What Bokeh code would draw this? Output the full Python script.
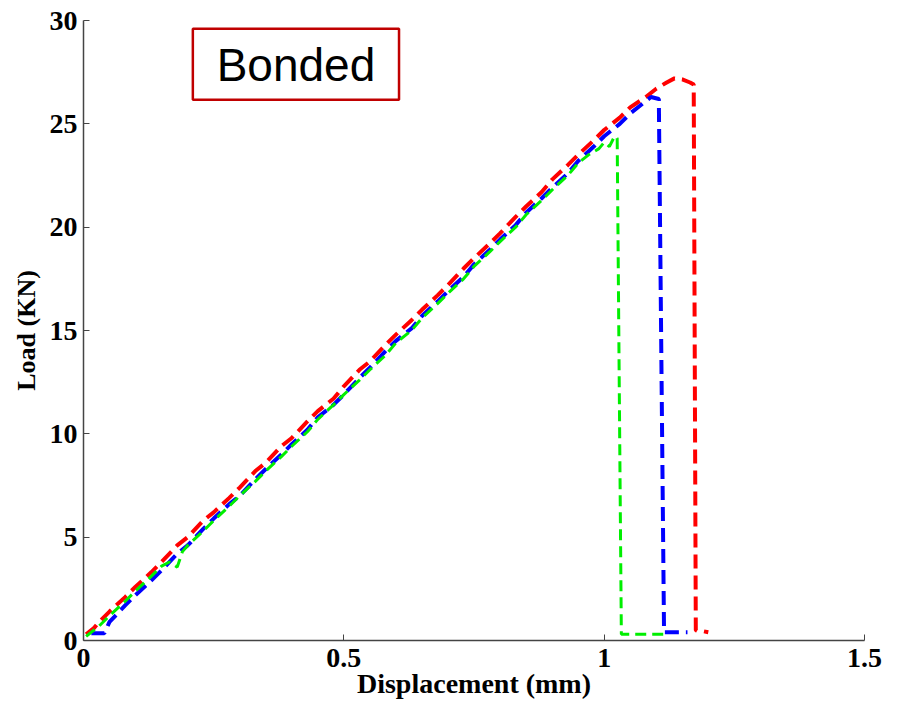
from bokeh.plotting import figure
from bokeh.models import Range1d, FixedTicker, BoxAnnotation, Label
from bokeh.embed import file_html
from bokeh.resources import INLINE

# Specimen 1 (red)
red_x = [0.005, 0.02, 0.03, 0.05, 0.08, 0.1, 0.13, 0.15, 0.18, 0.2, 0.23, 0.25, 0.28, 0.3, 0.33,
         0.35, 0.38, 0.4, 0.43, 0.45, 0.48, 0.5, 0.53, 0.55, 0.58, 0.6, 0.63, 0.65, 0.68, 0.7,
         0.73, 0.75, 0.78, 0.8, 0.83, 0.85, 0.88, 0.9, 0.93, 0.95, 0.98, 1.0, 1.03, 1.05, 1.08,
         1.1, 1.12, 1.135, 1.15, 1.165, 1.172, 1.176, 1.18, 1.19, 1.2]
red_y = [0.3, 0.6, 0.9, 1.4, 2.1, 2.6, 3.3, 3.8, 4.6, 5.0, 5.8, 6.2, 6.9, 7.4, 8.2,
         8.6, 9.4, 9.8, 10.6, 11.1, 11.7, 12.3, 13.1, 13.5, 14.3, 14.8, 15.5, 16.0, 16.7, 17.2,
         18.0, 18.5, 19.2, 19.7, 20.5, 21.0, 21.7, 22.3, 23.0, 23.5, 24.2, 24.7, 25.3, 25.8, 26.3,
         26.7, 27.0, 27.2, 27.15, 27.0, 26.9, 0.5, 0.45, 0.45, 0.4]

# Specimen 2 (blue)
blue_x = [0.015, 0.04, 0.05, 0.08, 0.1, 0.13, 0.15, 0.18, 0.2, 0.23, 0.25, 0.28, 0.3, 0.33,
          0.35, 0.38, 0.4, 0.43, 0.45, 0.48, 0.5, 0.53, 0.55, 0.58, 0.6, 0.63, 0.65, 0.68, 0.7,
          0.73, 0.75, 0.78, 0.8, 0.83, 0.85, 0.88, 0.9, 0.93, 0.95, 0.98, 1.0, 1.03, 1.05, 1.07,
          1.09, 1.105, 1.115, 1.13, 1.16]
blue_y = [0.35, 0.35, 0.9, 1.7, 2.2, 2.9, 3.4, 4.2, 4.6, 5.4, 5.9, 6.6, 7.0, 7.8,
          8.3, 9.0, 9.5, 10.2, 10.8, 11.4, 11.9, 12.7, 13.2, 14.0, 14.5, 15.1, 15.7, 16.4, 16.9,
          17.6, 18.2, 18.9, 19.4, 20.1, 20.7, 21.4, 21.9, 22.6, 23.2, 23.9, 24.4, 25.0, 25.5, 25.9,
          26.3, 26.2, 0.4, 0.4, 0.4]

# Specimen 3 (green)
green_x = [0.005, 0.03, 0.05, 0.08, 0.1, 0.13, 0.15, 0.165, 0.18, 0.19, 0.2, 0.23, 0.25, 0.28,
           0.3, 0.33, 0.35, 0.38, 0.4, 0.43, 0.45, 0.48, 0.5, 0.53, 0.55, 0.58, 0.6, 0.63, 0.65,
           0.68, 0.7, 0.73, 0.75, 0.78, 0.8, 0.83, 0.85, 0.88, 0.9, 0.93, 0.95, 0.97, 0.99, 1.0,
           1.01, 1.02, 1.025, 1.033, 1.07, 1.125]
green_y = [0.2, 0.7, 1.2, 1.9, 2.4, 3.1, 3.6, 3.8, 3.55, 4.3, 4.6, 5.3, 5.8, 6.5,
           7.0, 7.7, 8.2, 8.9, 9.4, 10.1, 10.7, 11.4, 11.9, 12.6, 13.1, 13.8, 14.4, 15.0, 15.6,
           16.3, 16.8, 17.5, 18.1, 18.8, 19.3, 20.0, 20.6, 21.3, 21.8, 22.5, 23.1, 23.5, 23.8, 24.1,
           23.9, 24.4, 24.3, 0.3, 0.3, 0.3]

x_ticks = [0, 0.5, 1, 1.5]
x_tick_labels = {0: "0", 0.5: "0.5", 1: "1", 1.5: "1.5"}
y_ticks = [0, 5, 10, 15, 20, 25, 30]

p = figure(width=902, height=711, output_backend="svg", toolbar_location=None,
           x_range=Range1d(0, 1.5), y_range=Range1d(0, 30),
           min_border_left=83, min_border_right=38, min_border_top=20, min_border_bottom=71)
p.outline_line_color = None
p.xgrid.grid_line_color = None
p.ygrid.grid_line_color = None
p.background_fill_color = "white"
p.border_fill_color = "white"

p.line(red_x, red_y, line_color="#ff0000", line_width=4, line_dash="14 7")
p.line(blue_x, blue_y, line_color="#0000ff", line_width=4, line_dash="14 7")
p.line(green_x, green_y, line_color="#00ee00", line_width=3, line_dash="11 6")

for ax in (p.xaxis[0], p.yaxis[0]):
    ax.major_tick_in = 6
    ax.major_tick_out = 0
    ax.minor_tick_line_color = None
    ax.axis_line_color = "#444444"
    ax.axis_line_width = 1.5
    ax.major_tick_line_color = "#444444"
    ax.major_label_text_font = "Liberation Serif"
    ax.major_label_text_font_style = "bold"
    ax.major_label_text_font_size = "28px"
    ax.major_label_text_color = "black"
    ax.axis_label_text_font = "Liberation Serif"
    ax.axis_label_text_font_style = "bold"
    ax.axis_label_text_color = "black"

p.xaxis.ticker = FixedTicker(ticks=x_ticks)
p.xaxis.major_label_overrides = x_tick_labels
p.xaxis.axis_label = "Displacement (mm)"
p.xaxis.axis_label_text_font_size = "28px"
p.xaxis.major_label_standoff = 8
p.xaxis.axis_label_standoff = -2
p.yaxis.ticker = FixedTicker(ticks=y_ticks)
p.yaxis.axis_label = "Load (KN)"
p.yaxis.axis_label_text_font_size = "26px"
p.yaxis.major_label_standoff = 6
p.yaxis.axis_label_standoff = 6

box = BoxAnnotation(left=0.21, right=0.606, bottom=26.17, top=29.6,
                    fill_color="white", fill_alpha=1.0,
                    line_color="#c00000", line_alpha=1.0, line_width=2.5)
p.add_layout(box)
p.add_layout(Label(x=0.408, y=27.85, text="Bonded", text_align="center",
                   text_baseline="middle", text_font="Liberation Sans",
                   text_font_size="46px", text_color="black"))

open("out.html", "w").write(file_html(p, INLINE))
